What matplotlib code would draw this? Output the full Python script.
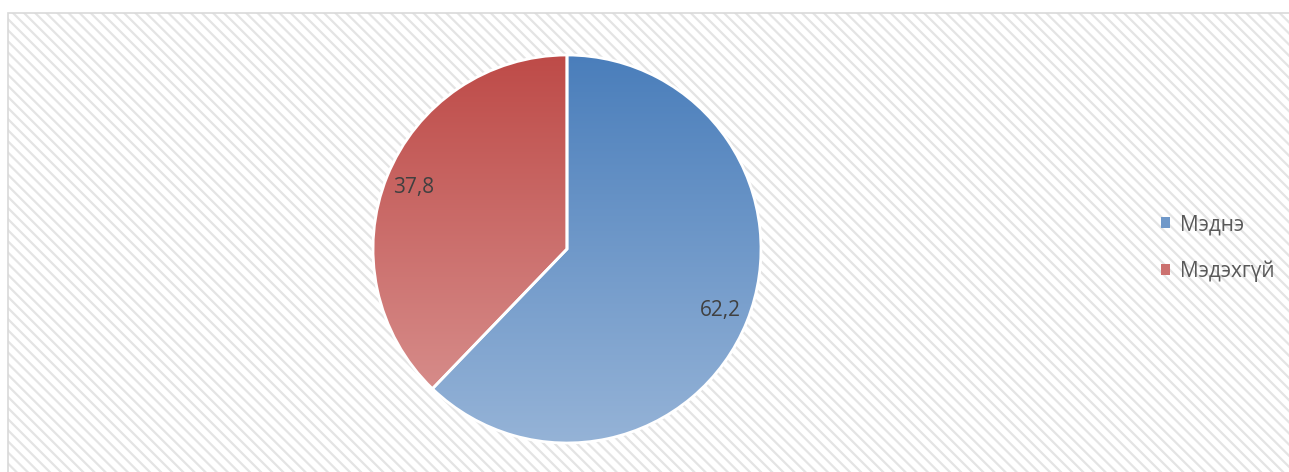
import numpy as np
import matplotlib
matplotlib.use("Agg")
import matplotlib.pyplot as plt
from matplotlib.colors import LinearSegmentedColormap
from matplotlib.patches import Rectangle

# data
labels = ["Мэднэ", "Мэдэхгүй"]
values = [62.2, 37.8]
top_colors = ["#4a7ebb", "#be4b48"]
bottom_colors = ["#95b3d7", "#da9694"]

W, H = 1289, 472
plt.rcParams["font.family"] = ["Open Sans", "DejaVu Sans"]
plt.rcParams["hatch.linewidth"] = 1.6

fig = plt.figure(figsize=(W / 100, H / 100), dpi=100)
ax = fig.add_axes([0, 0, 1, 1])
ax.set_xlim(0, W)
ax.set_ylim(0, H)
ax.set_aspect("equal")
ax.axis("off")

# hatched chart area background
ax.add_patch(Rectangle((8, -5), W, H - 13 + 5, facecolor="white",
                       edgecolor="#e4e4e4", lw=0, hatch="\\\\\\", zorder=0))
ax.add_patch(Rectangle((8, -5), W, H - 13 + 5, facecolor="none",
                       edgecolor="#d9d9d9", lw=1.2, zorder=0.5))

cx, cy, r = 567, H - 249, 194
mid_colors = ["#6f98c9", "#cc716f"]
wedges, texts, autotexts = ax.pie(
    values, center=(cx, cy), radius=r, startangle=90, counterclock=False,
    colors=mid_colors, pctdistance=0.85,
    autopct=lambda p: f"{p:.1f}".replace(".", ","),
    wedgeprops=dict(edgecolor="white", linewidth=2),
    textprops=dict(fontsize=15, color="#404040"), frame=False)

# vertical gradient fill inside each wedge
for w, c_top, c_bot in zip(wedges, top_colors, bottom_colors):
    cmap = LinearSegmentedColormap.from_list("g", [c_bot, c_top])
    grad = np.linspace(0, 1, 256).reshape(-1, 1)
    im = ax.imshow(grad, cmap=cmap, origin="lower", aspect="auto",
                   extent=(cx - r, cx + r, cy - r, cy + r), zorder=1.5)
    im.set_clip_path(w)
    w.set_facecolor("none")
    w.set_zorder(2)

for t in autotexts:
    t.set_zorder(3)

ax.set_xlim(0, W)
ax.set_ylim(0, H)

leg_handles = [Rectangle((0, 0), 1, 1, facecolor=c, edgecolor="none")
               for c in mid_colors]
ax.legend(leg_handles, labels, loc="center left",
          bbox_to_anchor=(1142 / W, 1 - 248 / H), frameon=False,
          fontsize=15, handlelength=0.45, handleheight=0.45,
          handletextpad=0.45, labelspacing=1.2, labelcolor="#595959")

fig.savefig("out.png", dpi=100)
